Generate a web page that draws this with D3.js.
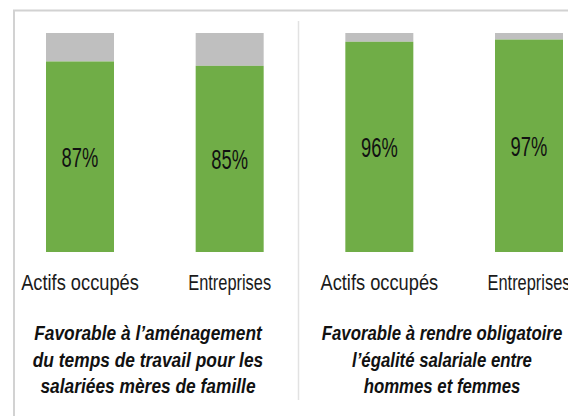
<!DOCTYPE html>
<html>
<head>
<meta charset="utf-8">
<script src="https://cdn.jsdelivr.net/npm/d3@7"></script>
<style>
  body { margin: 0; background: #fff; }
  svg { display: block; }
</style>
</head>
<body>
<div id="chart"></div>
<script>
// data
var categories = ["Actifs occupés", "Entreprises"]
var favorable_left = [0.87, 0.85]
var favorable_right = [0.96, 0.97]
var title_left = ["Favorable à l’aménagement", "du temps de travail pour les", "salariées mères de famille"]
var title_right = ["Favorable à rendre obligatoire", "l’égalité salariale entre", "hommes et femmes"]

var panels = [
  { values: favorable_left, title: title_left },
  { values: favorable_right, title: title_right }
]

var width = 568, height = 416
var green = "#70ad47", grey = "#bfbfbf"
var font = "'Liberation Sans', Arial, sans-serif"

var svg = d3.select("#chart").append("svg")
  .attr("width", width)
  .attr("height", height)

// frame lines
svg.append("line")
  .attr("x1", 13).attr("x2", width).attr("y1", 10.5).attr("y2", 10.5)
  .attr("stroke", "#d2d2d2").attr("stroke-width", 2)
svg.append("line")
  .attr("x1", 14).attr("x2", 14).attr("y1", 10).attr("y2", height)
  .attr("stroke", "#d2d2d2").attr("stroke-width", 2)
svg.append("line")
  .attr("x1", 298.5).attr("x2", 298.5).attr("y1", 21).attr("y2", 400)
  .attr("stroke", "#e2e2e2").attr("stroke-width", 1.5)

// one slot per bar, both panels
var keys = []
panels.forEach(function(p, i) {
  categories.forEach(function(c) { keys.push(i + "|" + c) })
})

var x = d3.scalePoint().domain(keys).range([80, 529])
var y = d3.scaleLinear().domain([0, 1]).range([252, 33])
var barWidth = 68

// squeeze text horizontally so the wide fallback font fits like the original
function squeeze(sel, factor) {
  sel.each(function() {
    var w = this.getComputedTextLength()
    d3.select(this).attr("textLength", w * factor).attr("lengthAdjust", "spacingAndGlyphs")
  })
}

var titleCenters = [148, 442]

panels.forEach(function(p, i) {
  var rows = categories.map(function(c, j) {
    return { key: i + "|" + c, label: c, value: p.values[j] }
  })

  var g = svg.append("g")

  // remainder (grey) then favorable share (green)
  g.selectAll(".rest").data(rows).enter().append("rect")
    .attr("x", function(d) { return x(d.key) - barWidth / 2 })
    .attr("y", y(1))
    .attr("width", barWidth)
    .attr("height", function(d) { return y(d.value) - y(1) })
    .attr("fill", grey)

  g.selectAll(".fav").data(rows).enter().append("rect")
    .attr("x", function(d) { return x(d.key) - barWidth / 2 })
    .attr("y", function(d) { return y(d.value) })
    .attr("width", barWidth)
    .attr("height", function(d) { return y(0) - y(d.value) })
    .attr("fill", green)

  var vals = g.selectAll(".val").data(rows).enter().append("text")
    .attr("x", function(d) { return x(d.key) })
    .attr("y", function(d) { return (y(d.value) + y(0)) / 2 + 10 })
    .attr("text-anchor", "middle")
    .attr("font-family", font)
    .attr("font-size", 27)
    .attr("fill", "#111")
    .text(function(d) { return d3.format(".0%")(d.value) })
  squeeze(vals, 0.68)

  var cats = g.selectAll(".cat").data(rows).enter().append("text")
    .attr("x", function(d) { return x(d.key) })
    .attr("y", 290)
    .attr("text-anchor", "middle")
    .attr("font-family", font)
    .attr("font-size", 22)
    .attr("fill", "#1a1a1a")
    .text(function(d) { return d.label })
  cats.each(function(d) {
    var f = d.label == "Entreprises" ? 0.745 : 0.83
    squeeze(d3.select(this), f)
  })

  var titles = g.selectAll(".title").data(p.title).enter().append("text")
    .attr("x", titleCenters[i])
    .attr("y", function(d, k) { return 340 + k * 26.5 })
    .attr("text-anchor", "middle")
    .attr("font-family", font)
    .attr("font-size", 19.5)
    .attr("font-weight", "bold")
    .attr("font-style", "italic")
    .attr("fill", "#111")
    .text(function(d) { return d })
  squeeze(titles, i == 0 ? 0.89 : 0.86)
})
</script>
</body>
</html>
